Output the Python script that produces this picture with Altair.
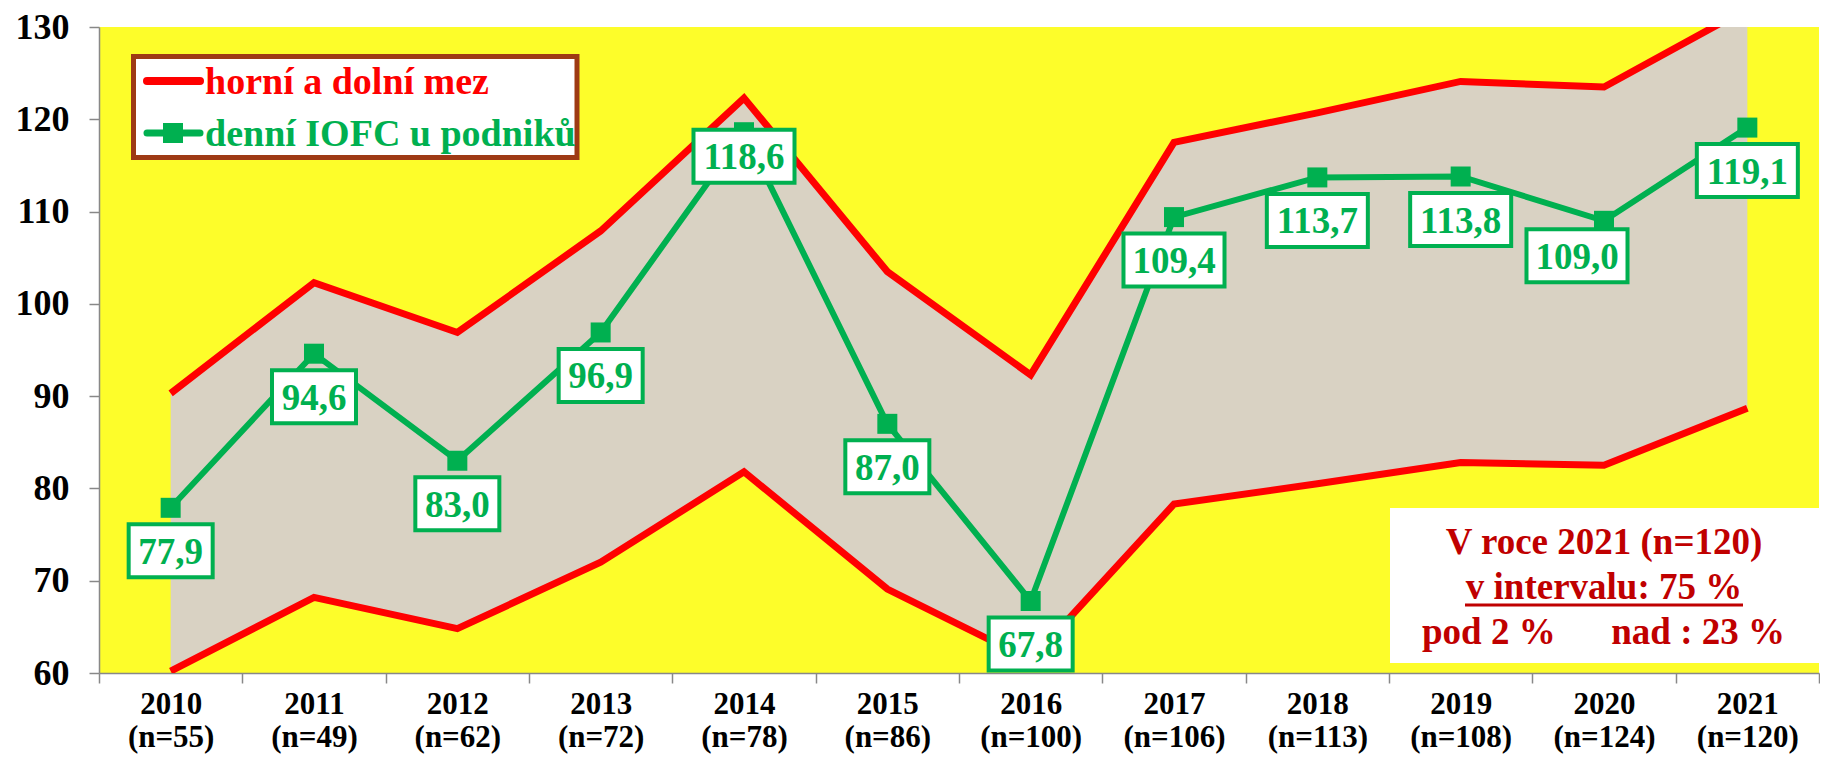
import altair as alt
import pandas as pd

# ---------------- data ----------------
years = ["2010", "2011", "2012", "2013", "2014", "2015",
         "2016", "2017", "2018", "2019", "2020", "2021"]
n_counts = [55, 49, 62, 72, 78, 86, 100, 106, 113, 108, 124, 120]
upper = [90.3, 102.3, 96.9, 107.9, 122.3, 103.5, 92.3, 117.5, 120.7, 124.1, 123.5, 132.0]
lower = [60.2, 68.2, 64.8, 72.0, 81.8, 69.1, 61.4, 78.3, 80.5, 82.8, 82.5, 88.7]
iofc = [77.9, 94.6, 83.0, 96.9, 118.6, 87.0, 67.8, 109.4, 113.7, 113.8, 109.0, 119.1]
label_place = ["below", "below", "below", "below", "near", "below",
               "below", "below", "below", "below", "left", "below"]

legend_labels = ["horní a dolní mez", "denní IOFC u podniků"]
note_lines = ["V roce 2021 (n=120)", "v intervalu: 75 %", "pod 2 %", "nad : 23 %"]

# ---------------- styling ----------------
FONT = "Liberation Serif"
RED = "#FF0000"
GREEN = "#00B050"
BEIGE = "#D9D2C3"
YELLOW = "#FDFD2A"
DARKRED = "#C00000"
BROWN = "#9E3A14"
W, H = 1720, 646

offsets = {"below": (0, 43), "near": (0, 24), "left": (-27, 35)}

cats = [f"{y}|(n={n})" for y, n in zip(years, n_counts)]
labels = [f"{v:.1f}".replace(".", ",") for v in iofc]

df = pd.DataFrame({
    "cat": cats,
    "upper": upper,
    "lower": lower,
    "iofc": iofc,
    "label": labels,
    "place": label_place,
    "kind": ["long" if len(l) > 4 else "short" for l in labels],
})

x_enc = alt.X(
    "cat:N", sort=cats, title=None, bandPosition=0.5,
    scale=alt.Scale(type="band", paddingInner=0, paddingOuter=0),
    axis=alt.Axis(
        tickBand="extent",
        labelExpr="isString(datum.value) ? split(datum.value, '|') : ''",
        labelFont=FONT, labelFontWeight="bold", labelFontSize=31,
        labelLineHeight=33, labelColor="black", labelPadding=6,
        tickSize=10, tickColor="#888888", tickWidth=1.5,
        domainColor="#888888", domainWidth=1.5, labelAngle=0,
        grid=False,
    ),
)
y_scale = alt.Scale(domain=[60, 130], nice=False, zero=False)
y_axis = alt.Axis(
    values=[60, 70, 80, 90, 100, 110, 120, 130], title=None,
    labelFont=FONT, labelFontWeight="bold", labelFontSize=36,
    labelColor="black", labelPadding=20, tickSize=10,
    tickColor="#888888", tickWidth=1.5, domainColor="#888888",
    domainWidth=1.5, grid=False,
)
y_iofc = alt.Y("iofc:Q", scale=y_scale, axis=y_axis)

base = alt.Chart(df)

band = base.mark_area(color=BEIGE, clip=True, opacity=1).encode(
    x=x_enc,
    y=alt.Y("lower:Q", scale=y_scale, axis=y_axis),
    y2="upper:Q",
)

limits = base.transform_fold(["upper", "lower"], as_=["key", "val"]).mark_line(
    color=RED, strokeWidth=7, clip=True
).encode(
    x=x_enc,
    y=alt.Y("val:Q", scale=y_scale, axis=y_axis),
    detail="key:N",
)

green_line = base.mark_line(color=GREEN, strokeWidth=6).encode(x=x_enc, y=y_iofc)
green_pts = base.mark_square(color=GREEN, size=400, opacity=1).encode(x=x_enc, y=y_iofc)

p_long = "M-1.906,-1L1.906,-1L1.906,1L-1.906,1Z"
p_short = "M-1.585,-1L1.585,-1L1.585,1L-1.585,1Z"

label_layers = []
for place, (dx, dy) in offsets.items():
    sub = base.transform_filter(alt.datum.place == place)
    label_layers.append(
        sub.mark_point(
            filled=True, fill="white", stroke=GREEN, strokeWidth=4,
            size=2809, opacity=1, fillOpacity=1, strokeOpacity=1,
            xOffset=dx, yOffset=dy,
        ).encode(
            x=x_enc, y=y_iofc,
            shape=alt.Shape("kind:N", scale=alt.Scale(domain=["long", "short"],
                                                      range=[p_long, p_short]),
                            legend=None),
        )
    )
    label_layers.append(
        sub.mark_text(
            font=FONT, fontWeight="bold", fontSize=37, color=GREEN,
            align="center", baseline="alphabetic", dx=dx, dy=dy + 13,
        ).encode(x=x_enc, y=y_iofc, text="label:N")
    )

# ---------------- legend (drawn) ----------------
one = alt.Chart(pd.DataFrame({"a": [0]}))
leg_box = one.mark_rect(fill="white", stroke=BROWN, strokeWidth=5).encode(
    x=alt.value(34.5), x2=alt.value(478), y=alt.value(29.5), y2=alt.value(130.5)
)
leg_red = one.mark_rule(color=RED, strokeWidth=8, strokeCap="round").encode(
    x=alt.value(48), x2=alt.value(101), y=alt.value(54)
)
leg_green = one.mark_rule(color=GREEN, strokeWidth=7, strokeCap="round").encode(
    x=alt.value(48), x2=alt.value(101), y=alt.value(106)
)
leg_sq = one.mark_square(color=GREEN, size=400, opacity=1).encode(
    x=alt.value(74), y=alt.value(106)
)
leg_t1 = one.mark_text(font=FONT, fontWeight="bold", fontSize=38, color=RED,
                       align="left", baseline="alphabetic").encode(
    x=alt.value(106), y=alt.value(67), text=alt.value(legend_labels[0])
)
leg_t2 = one.mark_text(font=FONT, fontWeight="bold", fontSize=38, color=GREEN,
                       align="left", baseline="alphabetic").encode(
    x=alt.value(106), y=alt.value(119), text=alt.value(legend_labels[1])
)

# ---------------- note box ----------------
cx = W - 215
note_box = one.mark_rect(fill="white").encode(
    x=alt.value(cx - 214), x2=alt.value(cx + 216), y=alt.value(481), y2=alt.value(636)
)
note_style = dict(font=FONT, fontWeight="bold", fontSize=37, color=DARKRED,
                  baseline="alphabetic")
note1 = one.mark_text(align="center", **note_style).encode(
    x=alt.value(cx), y=alt.value(527), text=alt.value(note_lines[0])
)
note2 = one.mark_text(align="center", **note_style).encode(
    x=alt.value(cx), y=alt.value(572), text=alt.value(note_lines[1])
)
note_ul = one.mark_rule(color=DARKRED, strokeWidth=3).encode(
    x=alt.value(cx - 139), x2=alt.value(cx + 139), y=alt.value(578)
)
note3 = one.mark_text(align="left", **note_style).encode(
    x=alt.value(cx - 182), y=alt.value(617), text=alt.value(note_lines[2])
)
note4 = one.mark_text(align="right", **note_style).encode(
    x=alt.value(cx + 181), y=alt.value(617), text=alt.value(note_lines[3])
)

chart = alt.layer(
    band, limits, green_line, green_pts, *label_layers,
    leg_box, leg_red, leg_green, leg_sq, leg_t1, leg_t2,
    note_box, note1, note2, note_ul, note3, note4,
).properties(
    width=W, height=H,
    padding={"left": 91, "top": 19, "right": 1, "bottom": 81},
    autosize=alt.AutoSizeParams(type="none"),
    background="white",
).configure_view(fill=YELLOW, stroke=None)

chart.save("out.html", embed_options={"renderer": "svg", "actions": False})
